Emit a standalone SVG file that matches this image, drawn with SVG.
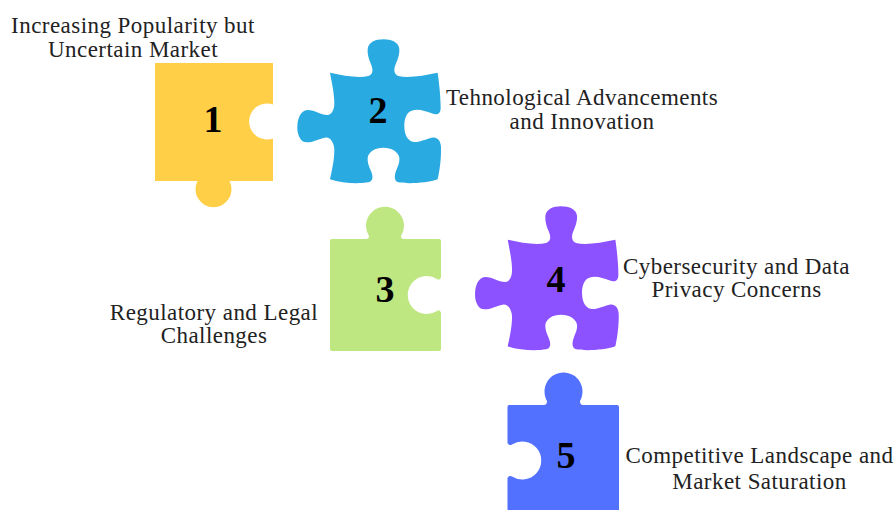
<svg xmlns="http://www.w3.org/2000/svg" width="895" height="510" viewBox="0 0 895 510">
<style>
text{font-family:"Liberation Serif","Times New Roman",serif;text-anchor:middle}
.l{font-size:23px;fill:#222;letter-spacing:.45px}
.n{font-size:38px;font-weight:bold;fill:#000}
</style>
<defs>
<path id="jig" transform="translate(290 35) scale(.33333)" d="M120 113C160 122 205 130 235 123C250 118 250 105 243 88C235 70 232 55 233 42C236 22 255 13 280 13C305 13 326 22 328 42C329 55 325 70 317 88C310 105 312 118 325 123C355 130 400 122 443 113C447 140 452 185 452 218C452 238 440 241 425 235C405 228 385 220 365 227C350 232 343 250 343 272C343 295 350 315 368 320C385 325 405 312 425 308C440 304 452 315 453 335C454 375 448 410 443 433C410 445 350 447 325 442C313 438 312 425 318 408C325 390 329 382 328 368C325 350 305 338 280 338C255 338 236 350 233 368C232 382 236 392 243 408C250 425 250 438 235 442C205 447 155 445 120 433C125 410 133 375 133 345C133 325 122 305 105 308C85 312 70 322 50 322C32 322 22 300 22 278C22 250 32 227 52 225C72 224 92 240 112 240C125 240 133 225 133 205C133 175 125 140 120 113Z"/>
</defs>
<g id="connectors"/>
<g id="node-1">
<path fill="#FFCF47" d="M155 63H273V104.500A18 18 0 1 0 273 138.500V181H229.500A18 18 0 1 1 197.500 181H155Z"/>
<text class="n" x="213" y="132">1</text>
<text class="l" x="133" y="33">Increasing Popularity but</text>
<text class="l" x="133" y="57">Uncertain Market</text>
</g>
<g id="node-2">
<use href="#jig" fill="#29ABE2"/>
<text class="n" x="378" y="123">2</text>
<text class="l" x="582" y="105">Tehnological Advancements</text>
<text class="l" x="582" y="129">and Innovation</text>
</g>
<g id="node-3">
<path fill="#BEE681" d="M332 239H366Q369 239 369 236A19 19 0 1 1 401 236Q401 239 404 239H439Q441 239 441 241V277Q440 281 437 279A19 19 0 1 0 437 311Q440 309 441 313V349Q441 351 439 351H332Q330 351 330 349V241Q330 239 332 239Z"/>
<text class="n" x="385" y="302">3</text>
<text class="l" x="214" y="320">Regulatory and Legal</text>
<text class="l" x="214" y="343">Challenges</text>
</g>
<g id="node-4">
<use href="#jig" transform="translate(177.700 167)" fill="#8C52FF"/>
<text class="n" x="556" y="292">4</text>
<text class="l" x="736.500" y="274">Cybersecurity and Data</text>
<text class="l" x="736.500" y="297">Privacy Concerns</text>
</g>
<g id="node-5">
<path fill="#5271FF" d="M509 405H544Q547 405 547 401A19 19 0 1 1 580 401Q580 405 583 405H617Q619 405 619 407V510H507.500V478Q509 475 512 476.500A19 19 0 1 0 512 444.500Q509 446 507.500 443V407Q507.500 405 509 405Z"/>
<text class="n" x="566" y="468">5</text>
<text class="l" x="759.500" y="463">Competitive Landscape and</text>
<text class="l" x="759.500" y="489">Market Saturation</text>
</g>
</svg>
